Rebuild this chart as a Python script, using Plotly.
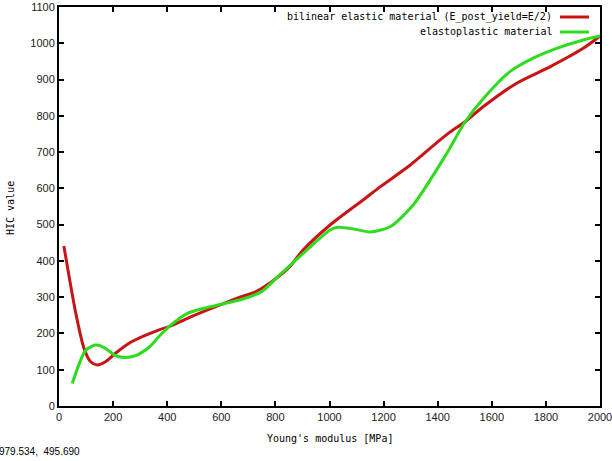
import plotly.graph_objects as go

# ---- data ----
red_x = [18, 62, 92, 117, 142, 172, 210, 259, 308, 370, 407, 500, 603, 669, 725, 800, 854, 900,
         1002, 1124, 1187, 1300, 1400, 1445, 1500, 1568, 1692, 1815, 1938, 2000]
red_y = [441, 256, 160, 122, 113, 122, 146, 173, 191, 210, 219, 250, 281, 300, 314, 350, 385, 428,
         499, 568, 604, 665, 728, 755, 783, 825, 890, 935, 986, 1020]

green_x = [49, 99, 136, 172, 203, 240, 283, 333, 370, 407, 477, 540, 603, 680, 750, 800, 916, 1002, 1030,
           1090, 1150, 1224, 1310, 1434, 1501, 1569, 1667, 1753, 1840, 1938, 2000]
green_y = [62, 154, 168, 159, 141, 134, 139, 162, 192, 219, 256, 270, 281, 295, 316, 350, 430, 485, 493,
           488, 480, 494, 555, 697, 783, 848, 922, 959, 986, 1009, 1020]

red_name = "bilinear elastic material (E_post_yield=E/2)"
green_name = "elastoplastic material"
x_title = "Young's modulus [MPa]"
y_title = "HIC value"
coord_text = "979.534,&nbsp;&nbsp;495.690"

x_ticks = list(range(0, 2001, 200))
y_ticks = list(range(0, 1101, 100))

RED = "#c81414"
GREEN = "#2edc1e"

W, H = 612, 461
L, R, T, B = 59, 12, 7, 55
pw, ph = W - L - R, H - T - B

fig = go.Figure()
fig.add_trace(go.Scatter(x=red_x, y=red_y, mode="lines", name=red_name,
                         line=dict(color=RED, width=3, shape="spline", smoothing=0.7),
                         showlegend=False))
fig.add_trace(go.Scatter(x=green_x, y=green_y, mode="lines", name=green_name,
                         line=dict(color=GREEN, width=3, shape="spline", smoothing=0.7),
                         showlegend=False))

def px_x(p):
    return (p - L) / pw

def px_y(p):
    return 1 - (p - T) / ph

mono = "DejaVu Sans Mono"
annotations = []
shapes = []
# gnuplot-style key (text right aligned, sample line on the right)
for i, (name, col) in enumerate([(red_name, RED), (green_name, GREEN)]):
    yy = 17 + i * 15
    annotations.append(dict(x=px_x(554), y=px_y(yy), xref="paper", yref="paper",
                            text=name, showarrow=False, xanchor="right", yanchor="middle",
                            font=dict(family=mono, size=10, color="black")))
    shapes.append(dict(type="line", xref="paper", yref="paper",
                       x0=px_x(560), x1=px_x(589), y0=px_y(yy), y1=px_y(yy),
                       line=dict(color=col, width=3)))

annotations.append(dict(x=px_x(330), y=px_y(438), xref="paper", yref="paper",
                        text=x_title, showarrow=False, xanchor="center", yanchor="middle",
                        font=dict(family=mono, size=10, color="black")))
annotations.append(dict(x=px_x(10), y=px_y(208), xref="paper", yref="paper",
                        text=y_title, showarrow=False, xanchor="center", yanchor="middle",
                        textangle=-90, font=dict(family=mono, size=10, color="black")))
annotations.append(dict(x=px_x(-3), y=px_y(451), xref="paper", yref="paper",
                        text=coord_text, showarrow=False, xanchor="left", yanchor="middle",
                        font=dict(family="Liberation Sans", size=10, color="black")))

fig.update_layout(
    width=W, height=H,
    margin=dict(l=L, r=R, t=T, b=B, pad=0, autoexpand=False),
    paper_bgcolor="white", plot_bgcolor="white",
    showlegend=False,
    annotations=annotations, shapes=shapes,
    font=dict(family="Liberation Sans", size=11, color="black"),
)
axis_common = dict(showgrid=False, zeroline=False, showline=True, linecolor="black", linewidth=2,
                   mirror="ticks", ticks="inside", ticklen=5, tickwidth=2, tickcolor="black",
                   automargin=False, ticklabeloverflow="allow",
                   tickfont=dict(family="Liberation Sans", size=11, color="#222"))
fig.update_xaxes(range=[0, 2000], tickvals=x_ticks, ticktext=[str(v) for v in x_ticks], **axis_common)
fig.update_yaxes(range=[0, 1100], tickvals=y_ticks, ticktext=[str(v) for v in y_ticks], **axis_common)

fig.write_html("out.html", config={"displayModeBar": False},
               post_script="document.body.style.margin='0px';document.body.style.overflow='hidden';")
